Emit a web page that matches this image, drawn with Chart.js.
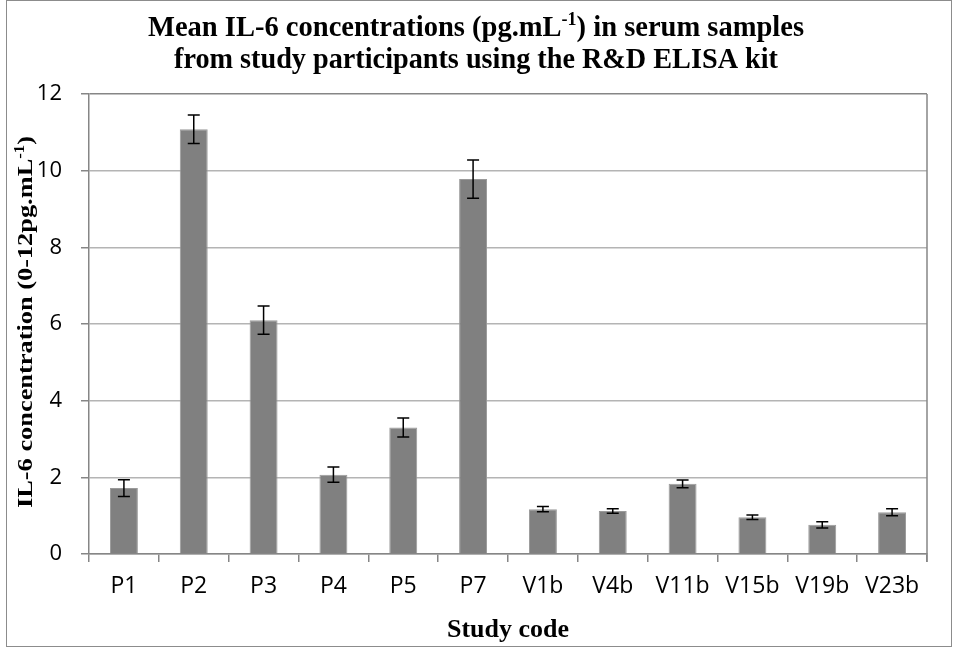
<!DOCTYPE html>
<html>
<head>
<meta charset="utf-8">
<script src="https://cdn.jsdelivr.net/npm/chart.js@4/dist/chart.umd.min.js"></script>
<style>
html,body{margin:0;padding:0;background:#fff;}
#wrap{width:953px;height:648px;position:relative;}
</style>
</head>
<body>
<div id="wrap"><canvas id="c" width="953" height="648"></canvas></div>
<script>
const categories = ['P1','P2','P3','P4','P5','P7','V1b','V4b','V11b','V15b','V19b','V23b'];
const meanValues = [1.72, 11.08, 6.10, 2.07, 3.30, 9.78, 1.17, 1.12, 1.83, 0.96, 0.76, 1.09];
const errorValues = [0.22, 0.37, 0.37, 0.20, 0.25, 0.50, 0.07, 0.06, 0.10, 0.06, 0.08, 0.09];
const yTicks = [0, 2, 4, 6, 8, 10, 12];

const titleLine1 = ['Mean IL-6 concentrations (pg.mL', '-1', ') in serum samples'];
const titleLine2 = ['from study participants using the R&D ELISA kit', '', ''];
const yTitle = ['IL-6 concentration (0-12pg.mL', '-1', ')'];
const xTitle = ['Study code', '', ''];

const SERIF = '"Liberation Serif","Times New Roman",serif';
const SANS = '"Open Sans","Liberation Sans",sans-serif';

// draws text (with optional superscript part) centred at cx, baseline cy, fitted to targetW
function drawSupText(ctx, parts, cx, cy, size, targetW) {
  const sup = Math.round(size * 0.62);
  ctx.font = 'bold ' + size + 'px ' + SERIF;
  const w0 = ctx.measureText(parts[0]).width;
  const w2 = ctx.measureText(parts[2]).width;
  ctx.font = 'bold ' + sup + 'px ' + SERIF;
  const w1 = ctx.measureText(parts[1]).width;
  const total = w0 + w1 + w2;
  const sx = targetW ? targetW / total : 1;
  ctx.save();
  ctx.translate(cx, cy);
  ctx.scale(sx, 1);
  let x = -total / 2;
  ctx.textAlign = 'left';
  ctx.textBaseline = 'alphabetic';
  ctx.font = 'bold ' + size + 'px ' + SERIF;
  ctx.fillText(parts[0], x, 0);
  x += w0;
  if (parts[1]) {
    ctx.font = 'bold ' + sup + 'px ' + SERIF;
    ctx.fillText(parts[1], x, -size * 0.36);
  }
  x += w1;
  if (parts[2]) {
    ctx.font = 'bold ' + size + 'px ' + SERIF;
    ctx.fillText(parts[2], x, 0);
  }
  ctx.restore();
}

const decor = {
  id: 'decor',
  beforeDraw(chart) {
    const ctx = chart.ctx;
    ctx.save();
    ctx.fillStyle = '#fff';
    ctx.fillRect(0, 0, chart.width, chart.height);
    ctx.restore();
  },
  afterDraw(chart) {
    const ctx = chart.ctx;
    const a = chart.chartArea;
    ctx.save();
    // outer border
    ctx.strokeStyle = '#8c8c8c';
    ctx.lineWidth = 1;
    ctx.strokeRect(6.5, 0.5, 945, 646);
    // right plot border
    ctx.strokeStyle = '#868686';
    ctx.lineWidth = 1.5;
    ctx.beginPath();
    ctx.moveTo(a.right, a.top);
    ctx.lineTo(a.right, a.bottom + 8);
    ctx.stroke();
    // titles
    ctx.fillStyle = '#000';
    drawSupText(ctx, titleLine1, 476, 36, 30, 656);
    drawSupText(ctx, titleLine2, 476, 68, 30, 604);
    // x title
    drawSupText(ctx, xTitle, 508, 637, 25, 122);
    // y title
    ctx.save();
    ctx.translate(32, 322);
    ctx.rotate(-Math.PI / 2);
    drawSupText(ctx, yTitle, 0, 0, 22, 372);
    ctx.restore();
    ctx.restore();
  },
  afterDatasetsDraw(chart) {
    const ctx = chart.ctx;
    const meta = chart.getDatasetMeta(0);
    const ys = chart.scales.y;
    ctx.save();
    ctx.strokeStyle = '#000';
    ctx.lineWidth = 1.5;
    meta.data.forEach((bar, i) => {
      const v = meanValues[i], e = errorValues[i];
      const yTop = ys.getPixelForValue(v + e);
      const yBot = ys.getPixelForValue(v - e);
      const x = bar.x;
      const cap = 6;
      ctx.beginPath();
      ctx.moveTo(x, yTop); ctx.lineTo(x, yBot);
      ctx.moveTo(x - cap, yTop); ctx.lineTo(x + cap, yTop);
      ctx.moveTo(x - cap, yBot); ctx.lineTo(x + cap, yBot);
      ctx.stroke();
    });
    ctx.restore();
  }
};

new Chart(document.getElementById('c'), {
  type: 'bar',
  data: {
    labels: categories,
    datasets: [{
      data: meanValues,
      backgroundColor: '#808080',
      borderColor: '#9a9a9a',
      borderWidth: 1,
      categoryPercentage: 0.4,
      barPercentage: 1.0
    }]
  },
  options: {
    responsive: false,
    animation: false,
    devicePixelRatio: 1,
    layout: { padding: { top: 94, left: 0, right: 26, bottom: 0 } },
    plugins: { legend: { display: false }, title: { display: false }, tooltip: { enabled: false } },
    scales: {
      x: {
        afterFit(s) { s.height = 94; },
        grid: { display: true, drawOnChartArea: false, drawTicks: true, tickLength: 8, offset: true, color: '#868686', lineWidth: 1.5 },
        border: { display: true, color: '#868686', width: 1.5 },
        ticks: { color: '#000', font: { family: SANS, size: 23 }, padding: 11, maxRotation: 0, autoSkip: false }
      },
      y: {
        min: 0, max: 12,
        afterFit(s) { s.width = 89; },
        afterBuildTicks(s) { s.ticks = yTicks.map(v => ({ value: v })); },
        grid: {
          color: ctx => (ctx.tick && ctx.tick.value === 12) ? '#868686' : '#b4b4b4',
          lineWidth: 1.5,
          drawTicks: true, tickLength: 8,
          tickColor: '#868686'
        },
        border: { display: true, color: '#868686', width: 1.5 },
        ticks: { color: '#000', font: { family: SANS, size: 22 }, padding: 19, stepSize: 2 }
      }
    }
  },
  plugins: [decor]
});
</script>
</body>
</html>
